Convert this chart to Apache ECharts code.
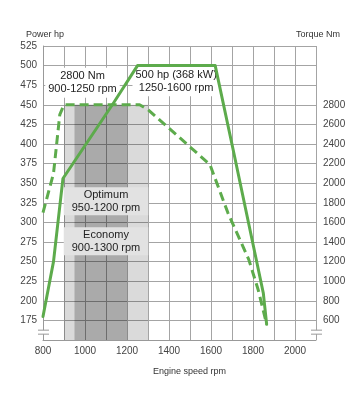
<!DOCTYPE html>
<html><head><meta charset="utf-8">
<script src="https://cdn.jsdelivr.net/npm/echarts@6/dist/echarts.min.js"></script>
<style>html,body{margin:0;padding:0;background:#fff}#c{width:364px;height:403px}</style>
</head><body><div id="c"></div>
<script>
// ---- data ----
const powerRpm = [800, 850, 895, 1135, 1250, 1620, 1706, 1849, 1865];
const powerHp  = [180, 250, 356, 452, 500, 500, 392, 210, 170];
const torqueRpm = [800, 850, 880, 900, 1260, 1300, 1595, 1680, 1780, 1825, 1865];
const torqueNm  = [1700, 2100, 2700, 2800, 2800, 2750, 2190, 1700, 1220, 910, 560];
const economyRange = [900, 1300];
const optimumRange = [950, 1200];
const bandTopHp = 450;
const xLabelTicks = [800, 1000, 1200, 1400, 1600, 1800, 2000];
const leftLabelMin = 175, rightLabelMin = 600, rightLabelMax = 2800;
const annotations = [
  { rpm: 988, hp: 478, text: '2800 Nm\n900-1250 rpm', bg: '#ffffff', pad: [2, 3] },
  { rpm: 1434, hp: 480, text: '500 hp (368 kW)\n1250-1600 rpm', bg: '#ffffff', pad: [2, 3] },
  { rpm: 1100, hp: 327, text: 'Optimum\n950-1200 rpm', bg: '#e2e2e2', pad: [1, 8] },
  { rpm: 1100, hp: 276, text: 'Economy\n900-1300 rpm', bg: '#e2e2e2', pad: [1, 8] }
];

const green = '#5dab4c';
const font = '"Liberation Sans", Arial, sans-serif';
const chart = echarts.init(document.getElementById('c'), null, { renderer: 'canvas' });

chart.setOption({
  animation: false,
  backgroundColor: '#fff',
  textStyle: { fontFamily: font },
  grid: { left: 43, right: 48, top: 46, bottom: 63 },
  title: [
    { text: 'Power hp', left: 21, top: 25, textStyle: { fontSize: 9, fontWeight: 'normal', color: '#333', fontFamily: font } },
    { text: 'Torque Nm', right: 19, top: 25, textStyle: { fontSize: 9, fontWeight: 'normal', color: '#333', fontFamily: font } },
    { text: 'Engine speed rpm', left: 148, top: 362, textStyle: { fontSize: 9, fontWeight: 'normal', color: '#333', fontFamily: font } }
  ],
  xAxis: {
    type: 'value', min: 800, max: 2100, interval: 100,
    axisLine: { show: true, lineStyle: { color: '#999' } },
    axisTick: { show: false },
    axisLabel: { margin: 6, fontSize: 10, color: '#444', fontFamily: font,
      formatter: v => xLabelTicks.includes(v) ? String(v) : '' },
    splitLine: { show: true, lineStyle: { color: '#a4a4a4', width: 1 } }
  },
  yAxis: [
    { type: 'value', min: 150, max: 525, interval: 25,
      axisLine: { show: true, lineStyle: { color: '#999' } },
      axisTick: { show: false },
      axisLabel: { margin: 6, fontSize: 10, color: '#444', fontFamily: font,
        formatter: v => v >= leftLabelMin ? String(v) : '' },
      splitLine: { show: true, lineStyle: { color: '#a4a4a4', width: 1 } } },
    { type: 'value', min: 400, max: 3400, interval: 200, position: 'right',
      axisLine: { show: false }, axisTick: { show: false },
      axisLabel: { margin: 7, fontSize: 10, color: '#444', fontFamily: font,
        formatter: v => (v >= rightLabelMin && v <= rightLabelMax) ? String(v) : '' },
      splitLine: { show: false } }
  ],
  series: [
    { type: 'line', data: [], z: 1, silent: true,
      markArea: { silent: true, data: [
        [{ xAxis: economyRange[0], yAxis: 150, itemStyle: { color: 'rgba(0,0,0,0.145)' } }, { xAxis: economyRange[1], yAxis: bandTopHp }],
        [{ xAxis: optimumRange[0], yAxis: 150, itemStyle: { color: 'rgba(0,0,0,0.22)' } }, { xAxis: optimumRange[1], yAxis: bandTopHp }]
      ] } },
    { type: 'line', data: [], z: 2, silent: true,
      markPoint: { symbol: 'rect', symbolSize: 1, itemStyle: { color: 'rgba(0,0,0,0)' },
        data: annotations.map(a => ({ coord: [a.rpm, a.hp],
          label: { show: true, position: 'inside', formatter: a.text, color: '#222', fontSize: 11,
            fontFamily: font, lineHeight: 13, align: 'center', verticalAlign: 'middle',
            backgroundColor: a.bg, padding: a.pad } })) } },
    { name: 'Torque', type: 'line', yAxisIndex: 1, zlevel: 1, z: 3, symbol: 'none',
      data: torqueRpm.map((r, i) => [r, torqueNm[i]]),
      lineStyle: { color: green, width: 3, type: [9, 5], join: 'round', cap: 'butt' } },
    { name: 'Power', type: 'line', yAxisIndex: 0, zlevel: 1, z: 4, symbol: 'none',
      data: powerRpm.map((r, i) => [r, powerHp[i]]),
      lineStyle: { color: green, width: 3, join: 'round', cap: 'round' } }
  ]
});

// axis break marks
function breakMarks(xVal) {
  const p = chart.convertToPixel({ xAxisIndex: 0, yAxisIndex: 0 }, [xVal, 160]);
  const x = p[0], y = p[1];
  return [
    { type: 'rect', shape: { x: x - 1.5, y: y - 2, width: 3, height: 4 }, style: { fill: '#fff' }, zlevel: 2, z: 10 },
    { type: 'line', shape: { x1: x - 5, y1: y - 2, x2: x + 6, y2: y - 2 }, style: { stroke: '#999', lineWidth: 1 }, zlevel: 2, z: 11 },
    { type: 'line', shape: { x1: x - 5, y1: y + 2, x2: x + 6, y2: y + 2 }, style: { stroke: '#999', lineWidth: 1 }, zlevel: 2, z: 11 }
  ];
}
chart.setOption({ graphic: breakMarks(800).concat(breakMarks(2100)) });
</script></body></html>
